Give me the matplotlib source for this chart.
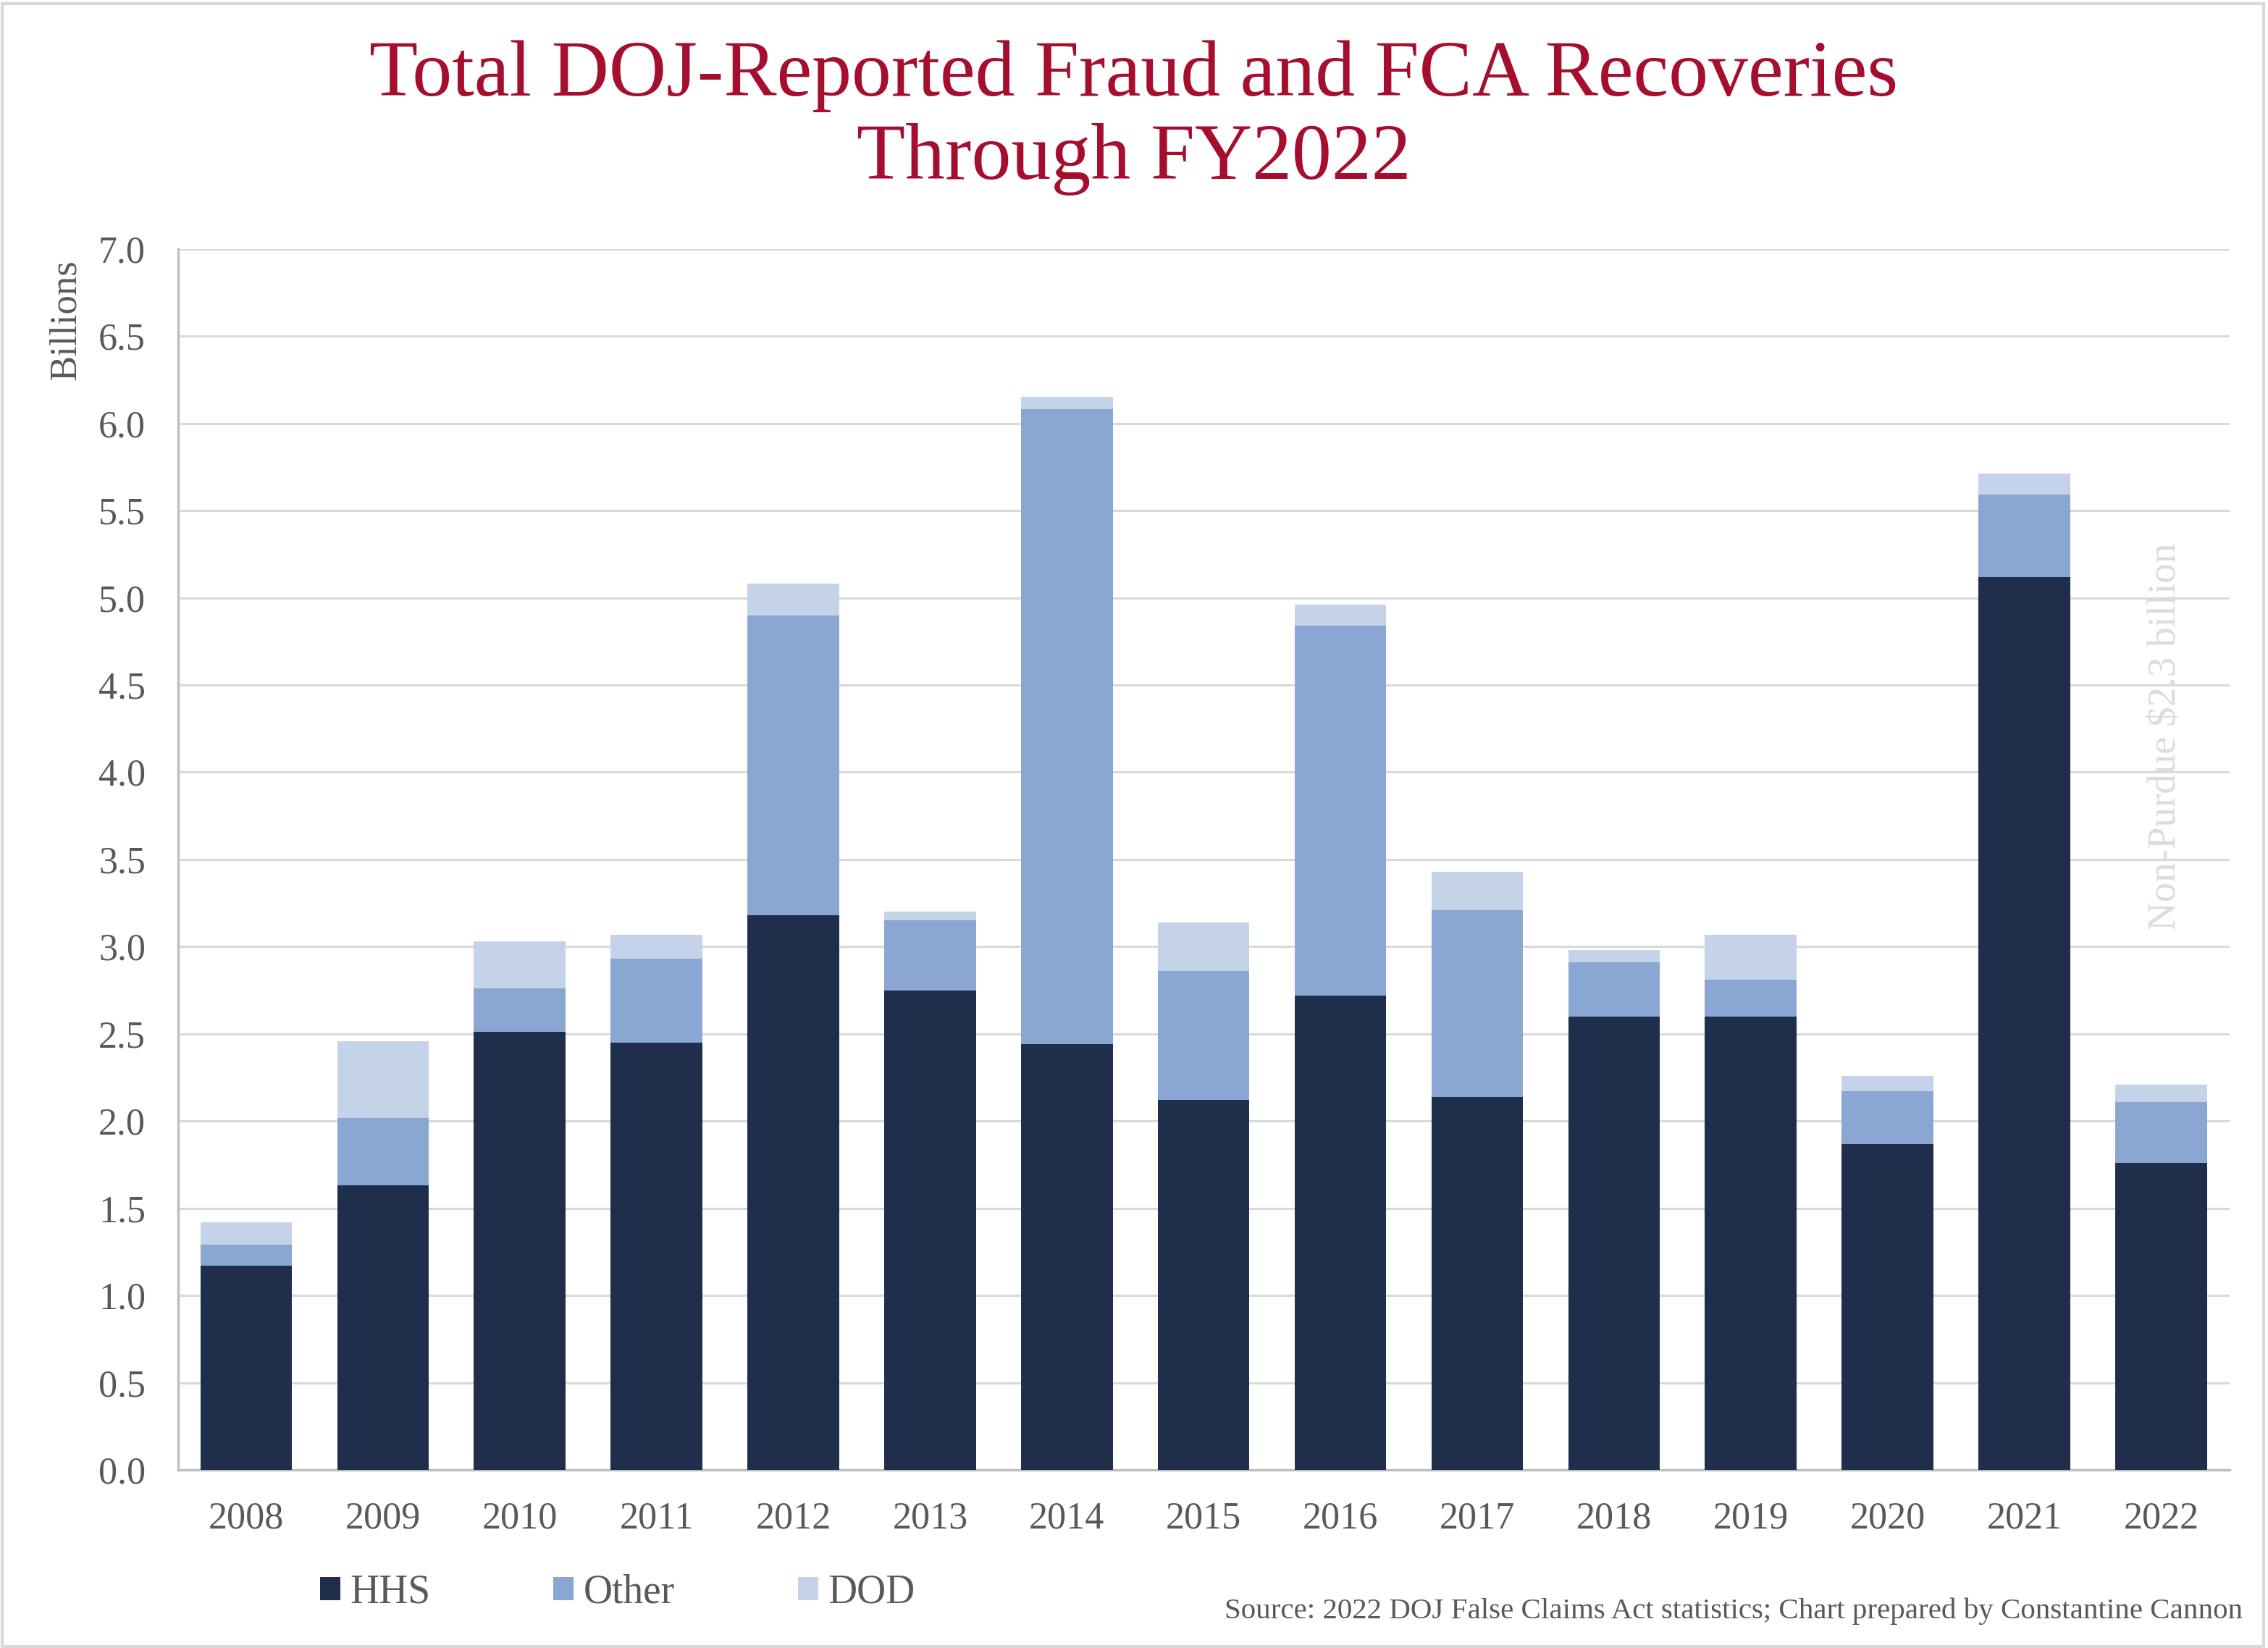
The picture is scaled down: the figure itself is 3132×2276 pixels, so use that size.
import matplotlib
matplotlib.use("Agg")
import matplotlib.pyplot as plt
from matplotlib.patches import Rectangle
from matplotlib.ticker import MultipleLocator, FormatStrFormatter

# Data (billions)
years = ["2008", "2009", "2010", "2011", "2012", "2013", "2014", "2015",
         "2016", "2017", "2018", "2019", "2020", "2021", "2022"]
hhs = [1.17, 1.63, 2.51, 2.45, 3.18, 2.75, 2.44, 2.12, 2.72, 2.14, 2.60, 2.60, 1.87, 5.12, 1.76]
other = [0.12, 0.39, 0.25, 0.48, 1.72, 0.40, 3.64, 0.74, 2.12, 1.07, 0.31, 0.21, 0.30, 0.47, 0.35]
dod = [0.13, 0.44, 0.27, 0.14, 0.18, 0.05, 0.07, 0.28, 0.12, 0.22, 0.07, 0.26, 0.09, 0.12, 0.10]

c_hhs = "#1F2E4B"
c_other = "#8AA6D2"
c_dod = "#C5D3E8"
title_red = "#A50E2D"
txt = "#595959"

plt.rcParams['font.family'] = ['Liberation Serif', 'DejaVu Serif']

fig = plt.figure(figsize=(31.32, 22.76), dpi=100)
fig.patches.append(Rectangle((0.001, 0.001), 0.997, 0.997, transform=fig.transFigure,
                             fill=False, edgecolor="#D9D9D9", linewidth=3))

ax = fig.add_axes((0.0784, 0.108, 0.9046, 0.741))
x = range(len(years))
bottom2 = [a + b for a, b in zip(hhs, other)]
ax.bar(x, hhs, width=0.67, color=c_hhs, label="HHS", zorder=3)
ax.bar(x, other, width=0.67, bottom=hhs, color=c_other, label="Other", zorder=3)
ax.bar(x, dod, width=0.67, bottom=bottom2, color=c_dod, label="DOD", zorder=3)

ax.set_xlim(-0.5, len(years) - 0.5)
ax.set_ylim(0, 7.0)
ax.yaxis.set_major_locator(MultipleLocator(0.5))
ax.yaxis.set_major_formatter(FormatStrFormatter('%.1f'))
ax.set_xticks(list(x))
ax.set_xticklabels(years)
ax.tick_params(axis='both', length=0, labelsize=37.5, colors=txt)
ax.tick_params(axis='x', pad=31)
ax.tick_params(axis='y', pad=32)
ax.grid(axis='y', color="#D9D9D9", linewidth=2.2, zorder=0)
for s in ['top', 'right']:
    ax.spines[s].set_visible(False)
for s in ['left', 'bottom']:
    ax.spines[s].set_color("#BFBFBF")
    ax.spines[s].set_linewidth(2.5)

fig.text(0.029, 0.806, "Billions", rotation=90, fontsize=38, color=txt,
         ha='center', va='center')

fig.text(0.5, 0.9285, "Total DOJ-Reported Fraud and FCA Recoveries\nThrough FY2022",
         ha='center', va='center', fontsize=79, color=title_red, linespacing=1.2)

fig.text(0.9548, 0.553, "Non-Purdue $2.3 billion", rotation=90, fontsize=39.5,
         color="#DCDCDC", ha='center', va='center')

leg = fig.legend(loc='lower left', bbox_to_anchor=(0.1252, 0.0), ncol=3, frameon=False,
                 fontsize=40, handlelength=0.5, handleheight=0.5, handletextpad=0.25,
                 columnspacing=3.05, labelcolor=txt)

fig.text(0.989, 0.018, "Source: 2022 DOJ False Claims Act statistics; Chart prepared by Constantine Cannon",
         ha='right', va='baseline', fontsize=29.5, color=txt)

plt.savefig("out.png", dpi=100)
